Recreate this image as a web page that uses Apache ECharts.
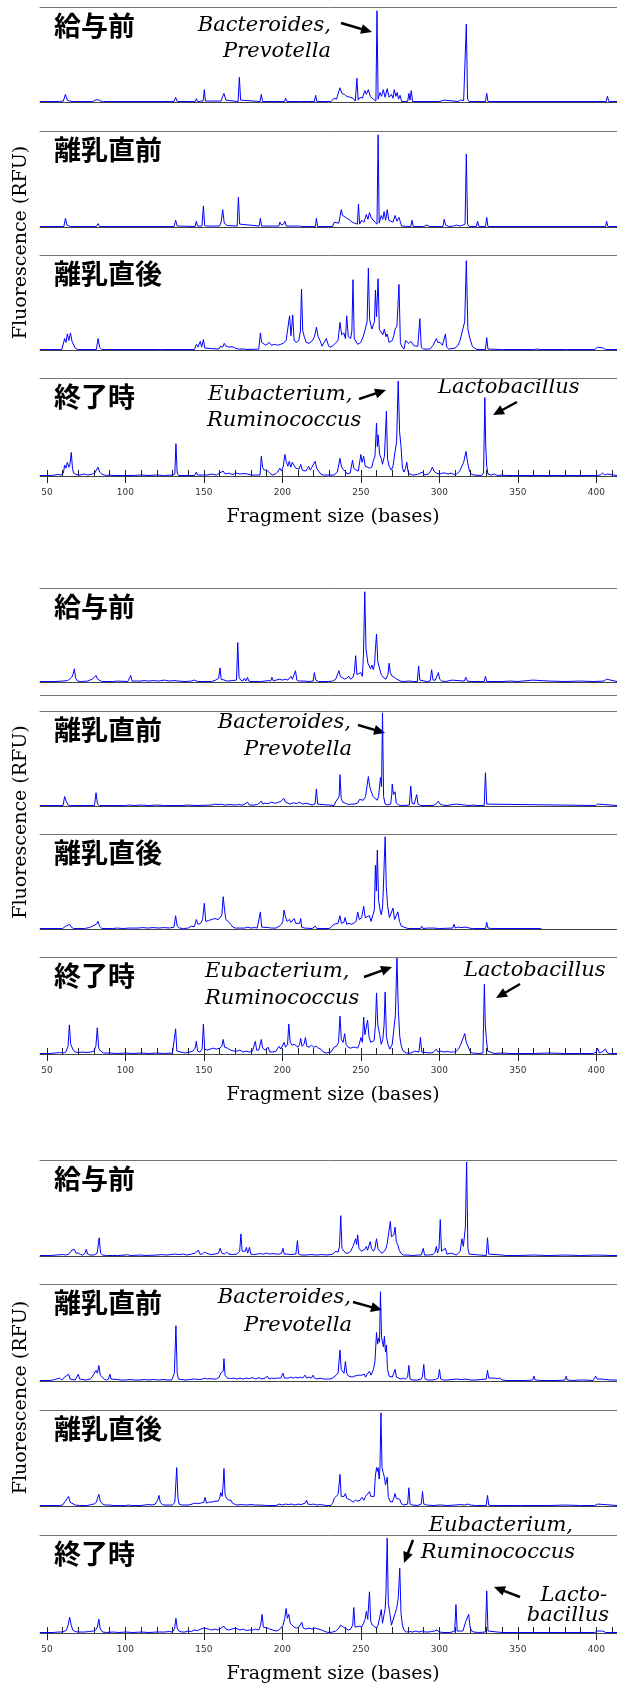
<!DOCTYPE html>
<html><head><meta charset="utf-8">
<script src="https://cdn.jsdelivr.net/npm/echarts@6/dist/echarts.min.js"></script>
<style>html,body{margin:0;padding:0;background:#fff}#c{width:617px;height:1688px}</style>
</head><body><div id="c"></div><script>
// ---------- axis values ----------
const X_MIN = 45.6, X_MAX = 413.2;
const tickLabels = [50, 100, 150, 200, 250, 300, 350, 400];
const allTicks = [50,60,70,80,90,100,110,120,130,140,150,160,170,180,190,200,210,220,230,240,250,260,270,280,290,300,310,320,330,340,350,360,370,380,390,400,410];
const panelNames = ['給与前', '離乳直前', '離乳直後', '終了時'];
const xTitle = 'Fragment size (bases)';
const yTitle = 'Fluorescence (RFU)';

// ---------- traces: [fragment size (bases), fluorescence (% of panel full scale)] ----------
const g1p1 = [[45.6,0.5],[58,0.5],[60.5,1],[61.8,8],[63,2],[64.5,1],[66,0.5],[79,0.5],[81,2],[82.6,2.5],[84,1],[86,0.5],[131,0.5],[132,5],[133,0.5],[144.5,0.5],[145.2,3.5],[146,0.5],[149.5,1],[150.3,13],[151,1],[161,1],[162,6],[162.8,9],[164,2],[165,0.5],[171.8,0.5],[172.6,26],[173.4,2],[174,0.5],[185.8,0.5],[186.6,8],[187.4,0.5],[201.4,0.5],[202.1,4],[203,0.5],[211,0.5],[211.7,2],[212.5,0.5],[220.4,0.5],[221.2,7],[222,0.5],[231,0.5],[233,4],[234.5,3],[236.7,15],[238,9],[239.5,8],[241,6],[243,5],[245,4],[246.5,1],[247.5,25],[248.3,2],[249.5,5],[251,4],[252.5,12],[253.5,8],[254.8,13],[256,6],[258,3],[259.6,1],[260.3,96],[261,3],[262.2,10],[263.2,6],[264.3,13],[265.5,5],[266.8,14],[268,5],[269.5,8],[270.5,4],[271.3,13],[272.3,6],[273.2,10],[274,3],[275,7],[276,0.5],[279.8,0.5],[280.6,9],[281.3,2],[282.1,12],[283,0.5],[300,0.5],[303,2],[304,0.5],[312,0.5],[313.5,2],[314.4,3],[315.5,1.5],[316.5,3],[317.2,82],[318,3],[319,0.5],[329.4,0.5],[330.2,9],[331,0.5],[406.3,0.5],[407.1,6],[408,0.5],[413.2,0.5]];
const g1p2 = [[45.6,0.5],[60.8,0.5],[61.8,9],[62.8,2],[64,1.5],[65,0.5],[81.5,0.5],[82.6,3.5],[83.6,0.5],[131,0.5],[132,7],[133,1],[134,0.5],[144.4,0.5],[145.2,6],[146,1],[148.8,1],[149.7,22],[150.5,1.5],[152,1],[160,1],[161,5],[162,18],[163,4],[165,1.5],[171.2,1],[172,31],[172.8,3],[174,1.5],[185.2,1],[186,9],[186.8,1],[197.8,1],[198.4,5],[199.5,2],[200.8,3],[201.6,6],[202.5,1],[211,1],[211.7,3],[212.4,0.5],[221,0.5],[221.7,9],[222.5,0.5],[232,0.5],[233,5],[234,3],[236,4],[237.5,18],[238.4,12],[239.2,14],[240.3,10],[241.5,9],[243,7],[244.5,5],[246,4],[247.8,3],[248.5,24],[249.2,3],[250.5,7],[252,5],[253.5,13],[254.5,8],[255.5,15],[256.5,10],[257.5,9],[259,5],[260.3,3],[261,96],[261.7,4],[263,12],[264,8],[264.8,16],[265.8,7],[266.8,18],[267.8,7],[269,9],[270.5,5],[271.8,12],[273,6],[274.3,10],[275.2,5],[276,1],[281.8,0.5],[282.6,7],[283.4,0.5],[290,0.5],[292,2],[294,0.5],[302.3,0.5],[303.1,8],[304,2],[306,0.5],[309,1],[311,2],[313,1],[315,2],[316.4,3],[317.2,76],[318,3],[319,0.5],[323.6,0.5],[324.4,6],[325.2,0.5],[329.4,0.5],[330.2,10],[331,0.5],[406,0.5],[406.6,6],[407.4,0.5],[413.2,0.5]];
const g1p3 = [[45.6,0.5],[59.5,0.5],[61.3,12],[62.2,8],[63,17],[64,10],[65,18],[66,9],[66.8,7],[68,2],[69.5,0.5],[81.5,0.5],[82.6,12],[83.6,3],[85,0.5],[121,0.5],[122,2],[123,0.5],[144,0.5],[145.2,6],[146.2,3],[147.7,9],[148.6,3],[149.7,11],[150.6,2],[151.5,0.5],[159.5,1],[160.5,4],[162,3],[163,7],[164,4],[166,3],[168,3.5],[170,2],[172,1],[176,1],[176.6,3],[177.5,0.5],[185,1],[186,18],[186.8,8],[188,6],[189.5,5],[191.6,8],[193,5],[195,6],[197,5],[199,6],[200.5,7],[201.5,6],[202.4,10],[203.5,12],[204.6,36],[205.5,15],[206.6,37],[207.5,10],[209,8],[210.5,10],[211.5,20],[212.2,64],[213,20],[214,14],[215.2,8],[217,7],[219.2,10],[220.5,14],[221.7,24],[222.8,14],[224,10],[225.3,4],[226.5,6],[228,12],[229.5,4],[231,3],[232.5,5],[234.2,8],[235.5,10],[236.7,29],[237.8,16],[239.2,18],[240.2,12],[241,36],[242,14],[243.5,12],[244.3,20],[245,74],[245.8,12],[246.7,10],[248,6],[250,8],[251.5,14],[253,23],[254,30],[254.8,86],[255.6,32],[257,22],[258,22],[258.7,30],[259.3,63],[260,35],[261,75],[261.8,22],[263,20],[264,16],[265,22],[266,14],[266.8,17],[268,8],[269.2,6],[270,10],[271,15],[271.8,22],[273,25],[274.3,69],[275.2,8],[276,4],[277.5,1],[278.5,10],[279.3,12],[280.5,7],[282,9],[283.5,5],[285,4],[286.3,4],[287.6,33],[288.5,3],[290,1],[294,1],[296,5],[298.1,12],[299,8],[300.5,8],[302,5],[303.9,17],[304.7,3],[306,1],[310,2],[312,5],[313.2,10],[314,8],[315,22],[316.2,30],[317.2,94],[318.2,22],[319.5,12],[321,4],[322.5,2],[324,0.5],[329.4,0.5],[330.2,13],[331,1],[332,0.5],[339.5,0.5],[340.2,2],[341,0.5],[360,0.5],[362,1],[364,0.5],[380,0.5],[380.8,2],[381.6,0.5],[399,0.5],[400.9,3],[402,1],[404.5,2],[406,0.5],[413.2,0.5]];
const g1p4 = [[45.6,0.5],[53,0.5],[55,1],[57,1.5],[59,1],[60.5,3],[61.3,11],[62.2,8],[63,14],[64,9],[64.7,12],[65.5,24],[66.3,8],[67,3],[68.5,1.5],[71,1],[74,2],[76,1],[79,2],[80.5,3],[82.6,9],[83.6,4],[85,2],[86.5,1],[88,0.5],[90,1],[92,0.5],[105,0.5],[110,1],[115,0.5],[120,1],[125,0.5],[130,1],[131.5,2],[132.2,33],[133,3],[134,0.5],[144,0.5],[145.2,4],[146,1],[149.5,1],[150.3,3],[152,1],[155,2],[158,1],[160,3],[162.3,5],[163.5,2],[166,3],[168,1.5],[171,3],[173,2],[175,2.5],[178,2],[180,1],[183,1],[185.8,1],[186.6,20],[187.4,9],[188.5,6],[190,6],[191.1,8],[192,3],[193.5,1],[195.5,2],[197,4],[198.4,8],[199.5,5],[200.6,10],[201.6,22],[202.6,14],[203.5,10],[204.4,15],[205.4,9],[206.3,14],[207.4,13],[208.5,8],[209.6,10],[210.7,7],[211.7,12],[212.7,6],[213.7,8],[215,5],[216.7,10],[217.8,6],[218.8,9],[219.8,7],[220.9,15],[221.8,8],[223,6],[224.5,2],[226,1],[230,1],[233,1],[235,4],[236.7,18],[237.6,10],[238.5,7],[240,5],[241.5,2],[243.2,3],[244.7,16],[245.5,8],[247,6],[248.4,5],[250,22],[250.8,14],[251.8,20],[252.8,10],[254,9],[255.5,8],[257,9],[258,16],[259,20],[260,54],[260.5,30],[261,42],[262,22],[263,18],[263.8,12],[265,20],[265.6,40],[266.3,66],[267,18],[268,10],[269.5,6],[270.5,10],[271.8,25],[272.8,35],[273.8,97],[274.7,45],[275.6,30],[276.5,8],[277.5,4],[278.5,8],[279.3,14],[280,5],[281,2],[283,1],[286,1.5],[289.3,4],[290.5,1],[293,2],[294.5,5],[295.6,9],[296.6,5],[298,3],[300,2],[302,3],[303.8,3],[305.5,2],[307.5,3],[309.5,1.5],[311,2],[313,5],[314.4,10],[315.5,14],[317,25],[318,14],[319.2,5],[320.5,2],[322,1],[327,0.5],[328.2,3],[329,80],[329.6,30],[330.2,10],[331,2],[333,1],[335,2],[337,0.5],[340,1],[342,0.5],[400,0.5],[401,2.5],[402.5,1],[404,3],[405.5,1],[407,2],[408,0.5],[413.2,0.5]];
const g2p1 = [[45.6,0.5],[55,0.5],[60,1],[63,1.5],[64.5,3],[65.8,5],[66.6,8],[67.5,14],[68.3,4],[69.5,1],[72,0.5],[76,1],[78.8,3],[80,4],[81.3,7],[82.3,3],[83.5,1],[85,0.5],[92,0.5],[95,1],[96,0.5],[101.5,0.5],[102.5,2],[103.4,7],[104.2,1],[105,0.5],[107,1],[110,1],[112,1.5],[115,1],[118,1.5],[121,1],[125,2],[128,1],[131,1.5],[134,1],[138,0.5],[142,1],[144,2],[146,0.5],[155,0.5],[157.5,2],[159.4,4],[160.3,15],[161,3],[162,1],[165,1],[168,1.5],[170.8,2],[171.6,42],[172.4,5],[173.5,2],[174.8,1],[175.8,4],[176.8,1],[177.8,5],[178.6,1],[180,0.5],[186,0.5],[189,1],[191,1.5],[192.5,1],[193.4,5],[194.3,1],[196,2],[198,3],[199.1,5],[200,2],[202,3],[203.5,2],[205.4,6],[206.4,3],[207.5,5],[208.4,12],[209.2,2],[210.5,1],[214,1],[217,0.5],[219.6,1],[220.4,10],[221.3,2],[223,0.5],[229,0.5],[232,1],[234,3],[236,12],[237,6],[238,5],[239.5,3],[240.8,4],[242.3,6],[243.5,3],[245,5],[245.9,10],[246.7,28],[247.5,8],[248.5,7],[250,10],[251,6],[251.7,30],[252.5,96],[253.3,35],[254.5,20],[255.5,22],[256.2,14],[257,18],[258,13],[258.8,20],[259.3,35],[260,51],[260.8,22],[261.8,15],[263,8],[264.3,5],[266,3],[267.3,8],[268,20],[268.8,10],[270,6],[271.3,5],[273,3],[275,1],[277,0.5],[280,1],[280.6,3],[281.3,1],[282.5,2],[283.5,0.5],[286,0.5],[286.8,17],[287.6,2],[288.5,1],[292,0.5],[294.2,1],[295.1,13],[296,2],[297.5,2],[298.6,3],[299.4,10],[300.2,3],[301.5,1],[304,0.5],[308.1,2],[309,0.5],[315.9,1],[316.9,5],[317.8,1],[320,0.5],[328.6,0.5],[329.4,6],[330.2,0.5],[340,0.5],[345,1],[350,0.5],[359.5,2],[360.5,0.5],[370,1],[380,0.5],[390,1],[398,0.5],[405,1],[406.5,3],[407.5,1],[413.2,0.5]];
const g2p2 = [[45.6,0.5],[60.3,0.5],[61.3,10],[62.3,5],[63.5,1],[65,0.5],[80.3,0.5],[81.3,14],[82.2,2],[83.5,0.5],[100,0.5],[102,1],[106,0.5],[110,1],[115,0.5],[120,1],[125,0.5],[136,0.5],[140,1],[145,0.5],[155,1],[157,2],[159,1.5],[161,2],[163,1],[166,1.5],[170,1],[172,1.5],[175,1],[177.8,4],[179,1],[182,1],[184,1.5],[186.6,5],[187.6,2],[189,3],[191,2.5],[193,4],[195,3],[197,3.5],[199.1,5],[200,4],[200.9,8],[202,4],[203.5,3],[205,2],[207,3.5],[209,2.5],[211,4],[213,2],[215,3],[217,2],[219,1],[220.8,2],[221.7,18],[222.5,2],[223.5,0.5],[233,0.5],[234.2,5],[235.3,3],[236.2,10],[236.7,33],[237.5,8],[238.5,4],[240,3],[242,1.5],[244,2],[246,2],[248,3],[249.2,7],[250.3,5],[251.5,6],[253,10],[254,12],[254.8,31],[255.5,22],[256,18],[256.8,17],[257.8,10],[259,8],[260.4,6],[261.3,10],[262,12],[262.5,30],[263.2,20],[263.8,98],[264.5,10],[265.5,2],[267,1],[269,2],[269.7,12],[270,23],[270.8,12],[271.8,15],[272.6,3],[274,1],[276,0.5],[280.9,1],[281.8,21],[282.6,3],[284,2],[285.6,12],[286.4,2],[288,0.5],[296,0.5],[297.8,2],[299.4,5],[300.5,2],[302,1],[305,0.5],[308,1.5],[311,2],[314,1.5],[316,1],[319,0.5],[322,1],[324,0.5],[328.6,0.5],[329.4,35],[330.2,2],[331,0.5],[399.5,0.5],[400.9,2],[402,0.5],[413.2,0.5]];
const g2p3 = [[45.6,0.5],[60,0.5],[62,3],[63,2],[64.5,5],[65.5,2],[67,0.5],[74,0.5],[77,1.5],[79,3],[80,2],[81.5,5],[82.6,8],[83.5,3],[85,0.5],[92,0.5],[95,1],[98,0.5],[103,1],[108,1],[111,1.5],[114,1],[118,1.5],[121,1],[125,1.5],[128,1],[131,2],[132,14],[133,3],[134.5,1],[137,0.5],[140,1],[142,3],[144,2.5],[145.2,10],[146.3,5],[148,6],[149.2,10],[150.3,27],[151.2,8],[153,9],[155,10],[157,11],[159,10],[160.5,12],[161.5,15],[162.3,34],[163.2,20],[164,10],[165.5,8],[167,5],[168.5,2],[170,1],[176,1],[178,2],[180,1],[182,1.5],[184,1],[185.2,2],[186,18],[186.8,2],[188,1],[191,1.5],[193,1],[196,1],[198,3],[199.5,5],[200.3,8],[201.1,20],[201.8,14],[203,8],[204.5,10],[205.4,7],[206.5,9],[207.5,11],[208.5,6],[209.7,5],[211,6],[211.7,11],[212.3,2],[214,1],[219,0.5],[221,3],[222,0.5],[230,0.5],[233,5],[235.5,6],[236.7,14],[237.6,6],[239.2,7],[240,12],[241,5],[242.5,6],[244,5],[245.5,6],[247,8],[248,18],[249,10],[250.5,12],[251.8,24],[252.8,12],[254,10],[255.5,14],[256.5,8],[257.7,6],[258.6,20],[259.3,67],[259.9,40],[260.5,83],[261.3,30],[262.3,20],[263,15],[263.8,22],[264.3,40],[265,75],[265.5,97],[266.2,45],[267,25],[268.2,12],[269.2,10],[270.5,22],[271.5,10],[272.5,12],[273.6,18],[274.6,8],[275.8,3],[277,1],[280,0.5],[288,0.5],[288.8,3],[289.6,0.5],[293,1],[296,1],[300,0.5],[308.6,1],[309.4,5],[310.2,1],[312,2],[314,1.5],[317,2],[319,1],[321,0.5],[329.4,0.5],[330.2,7],[331,1],[333.5,0.5],[364,0.5],[365,0.5]];
const g2p4 = [[45.6,0.5],[52,0.5],[55,1],[58,1.5],[60,1],[62,2],[63.5,8],[64.3,30],[65.2,10],[66.5,5],[68,2],[70,1.5],[73,2],[75,1.5],[78,2],[80,3],[81.2,8],[82.1,27],[83,6],[84.2,3],[86,1],[90,1],[95,0.5],[100,1],[105,0.5],[110,1],[115,0.5],[120,1],[125,0.5],[130,1],[131.2,3],[132,26],[132.8,3],[134,1],[138,1],[141,2],[143,3],[144.4,6],[145.2,13],[146,3],[147.5,2],[148.9,5],[149.7,31],[150.5,5],[152,4],[154,5],[156,6],[158,5],[160,6],[161.5,8],[162.3,15],[163.2,7],[165,6],[167,4],[169,3],[171,3],[173,4],[175,2],[177,3],[179,2],[181,3],[182,5],[182.8,13],[183.6,4],[185,4],[185.8,6],[186.6,15],[187.4,6],[189,4],[190.9,7],[192,2],[194,2],[196,3],[197.9,8],[199,5],[200.2,7],[201.1,12],[202,7],[203.3,10],[204.1,31],[205,12],[206.2,9],[207.5,10],[208.7,8],[210,7],[211,10],[211.7,16],[212.5,8],[213.8,10],[214.7,17],[215.6,8],[217,7],[218.6,9],[220,7],[221.7,8],[223,6],[224.5,5],[226,2],[228,1],[231,2],[233,7],[234.5,8],[235.8,12],[236.7,39],[237.6,15],[238.7,12],[239.7,21],[240.6,10],[242,7],[243.5,6],[245,7],[246.5,7],[248,6],[249,10],[250,17],[251,12],[251.8,38],[252.6,20],[253.5,22],[254.3,35],[255.2,18],[256.3,12],[257.5,10],[258.5,14],[259.3,30],[260,63],[260.8,30],[262,20],[263,10],[264,15],[264.8,30],[265.5,64],[266.3,18],[267.3,10],[268.5,5],[270,10],[271,25],[272,40],[273,99],[273.9,45],[274.8,18],[275.8,8],[277,3],[279,1],[282,1],[284.3,3],[285.5,1],[287,2],[288,17],[288.8,2],[290,0.5],[294,1],[296,1.5],[298.1,5],[299.2,2],[301,3],[303,2],[305,2.5],[307,2],[309,2],[311,3],[312.5,6],[313.7,10],[314.8,12],[316.2,21],[317.2,12],[318.2,10],[319.5,3],[321,1],[325,0.5],[327.8,1],[328.7,72],[329.3,30],[330,15],[330.8,3],[332,1],[335,0.5],[340,1],[345,0.5],[360,0.5],[370,1],[380,0.5],[398,0.5],[400,2],[400.9,6],[402,1],[403.5,2],[404.5,1],[405.9,5],[407,1],[409,0.5],[413.2,0.5]];
const g3p1 = [[45.6,0.5],[52,0.5],[56,1],[60,1.5],[62,1],[64,2],[65.8,6],[66.6,4],[67.5,7],[68.5,3],[70,3],[71.5,1.5],[73,1],[74.3,3],[75.1,7],[75.9,2],[77.5,1],[80,1],[82,3],[83.3,19],[84.2,3],[85.5,1],[88,0.5],[92,0.5],[95,0.5],[100,1],[101.4,1.5],[103,0.5],[110,1],[113,0.5],[120,1],[123,1.5],[126,1],[129,1.5],[131.5,2],[132.7,3.5],[134,1.5],[137,2],[139,1],[142,2],[144.5,3],[146.5,6],[147.5,2],[149,2],[150.3,4],[151.5,2],[154,1.5],[157,2],[159.3,3],[160.3,8],[161.5,3],[163,2],[164.5,4],[166,2],[168,1.5],[171,2],[172.8,5],[173.6,23],[174.4,5],[175.5,3],[176.3,5],[177.1,9],[177.9,3],[178.4,5],[179.1,9],[179.9,2],[181.5,1.5],[184,2],[186,2.5],[188,2],[190,3],[192,2],[194,2.5],[196,2],[198,2],[199.5,3],[200.4,8],[201.2,2],[203,2],[205,1.5],[208.6,2],[209.6,16],[210.4,2],[212,1],[215,1],[218,1.5],[222,1],[225,1.5],[229,1],[232,2],[234.2,5],[235.5,4],[236.4,10],[237.2,42],[238,8],[239.2,5],[240.5,3],[242,3],[243.5,5],[245,10],[245.8,8],[246.7,18],[247.3,12],[248,22],[248.8,8],[250.3,5],[251.5,4],[252.6,7],[253.5,10],[254.3,6],[255.2,8],[256,15],[256.8,8],[258,5],[259,8],[260,18],[260.9,8],[262,5],[263.5,3],[265,5],[266,8],[266.8,13],[267.8,12],[268.8,36],[269.5,20],[270.3,18],[271,22],[271.8,30],[272.6,15],[273.5,12],[274.5,6],[275.5,3],[277,1],[280,1],[283,0.5],[286,1],[288.5,1],[289.8,8],[290.6,1],[293,1],[296,1.5],[297.3,4],[298.1,10],[298.9,3],[299.8,8],[300.6,38],[301.4,5],[302.5,3],[303.9,8],[304.8,2],[306,1],[307.5,3],[308.5,1],[311,1],[313.3,5],[314.4,18],[315.3,10],[316,8],[316.6,30],[317.4,98],[318.2,8],[319,2],[320,0.5],[329.9,0.5],[330.7,19],[331.5,2],[332.5,0.5],[340,1],[342,0.5],[350,0.5],[360,1],[370,0.5],[380,1],[390,0.5],[400,1],[410,0.5],[413.2,0.5]];
const g3p2 = [[45.6,0.5],[52,0.5],[55,1.5],[58,3],[59.5,1],[61.3,4],[62.5,2],[63.8,7],[64.8,2],[66,1],[68,1],[69.2,2],[70,7],[70.8,2],[72,1],[75,1],[77.5,2],[78.8,4],[80,3],[81.3,11],[82.2,8],[83.1,16],[84,6],[85.2,4],[86.5,2],[88,1],[89.3,2],[90.1,7],[90.9,2],[92,1],[95,1.5],[97,1],[100,1],[103,1.5],[106,1],[109,1],[112,1.5],[115,1],[118,1.5],[121,1],[124,1.5],[127,1],[129.5,1],[131.2,8],[132.2,57],[133,8],[133.8,2],[135,1],[138,1],[141,1.5],[144,2],[147,1.5],[149,2],[150.7,3],[151.5,5],[152.3,2],[154,2.5],[156,2],[158,2],[159.8,4],[160.7,8],[161.6,6],[162.3,10],[162.8,23],[163.5,6],[165,3],[167,2.5],[169,3],[171,2],[173,3],[175,2],[177,3],[179,2.5],[181,3.5],[183,2],[185,3.5],[187,2],[189,3],[190.4,5],[191.5,2],[193,3],[195,2.5],[197,3],[199,3],[199.6,4],[200.4,8],[201.3,3],[202.5,4],[204,3],[205.5,4],[207,3],[208.5,4],[210,3],[211.5,4],[213,3],[214.4,6],[215.5,3],[217,4],[218.5,3],[219.6,6],[220.5,3],[222,2],[224,3],[226,2],[228,2],[230,2],[232,3],[233.5,5],[234.5,3],[235.5,8],[236.7,32],[237.5,12],[238.2,10],[239.3,8],[240.2,20],[241,8],[242.2,5],[243.3,3],[244.5,4],[246,5],[247,3],[248.5,6],[249.5,4],[250.5,6],[251.5,5],[252.3,7],[253,4],[254,7],[255,6],[255.5,10],[256.5,6],[257.3,8],[258,12],[259,20],[260,50],[260.7,38],[261.3,44],[261.9,40],[262.5,92],[263.2,45],[263.8,45],[264.4,35],[265,46],[265.7,30],[266.3,37],[267,12],[268,5],[269,3],[270,4],[271,8],[271.8,12],[272.7,4],[274,3],[275.5,2],[277,3],[278.5,2],[279.8,4],[280.6,16],[281.4,2],[283,1],[286,1],[288.5,2],[289.3,5],[290.1,17],[290.9,2],[292.5,1],[295,1],[297.5,1.5],[299.3,3],[300.1,12],[300.9,2],[302.5,1],[305,1],[308,1.5],[311,2],[314,1.5],[317,2],[320,1],[323,1],[326,1.5],[329.9,2],[330.7,11],[331.5,3],[333,3],[335,3],[337,2.5],[338.5,3],[340,1],[343,0.5],[355,0.5],[359.5,1],[360.3,5],[361.1,1],[365,0.5],[375,0.5],[380,1],[380.8,5],[381.6,1],[385,0.5],[390,1],[390.9,3],[391.7,1],[398,0.5],[399.6,5],[400.6,2],[403,2],[406,1.5],[409,1],[413.2,1]];
const g3p3 = [[45.6,0.5],[58,0.5],[60,1],[61.3,4],[62.5,3],[63.8,10],[64.8,4],[66,2],[68,1],[71,0.5],[76,0.5],[78,1.5],[80,2],[81.5,4],[82.2,8],[83.1,12],[84,5],[85.5,2],[87,1],[90,1],[92,0.5],[100,0.5],[102,1],[104,0.5],[110,0.5],[112,1],[115,1.5],[117,1],[119,2],[120.5,6],[121.4,11],[122.2,4],[123.5,1.5],[125,1],[128,1],[130,1],[131.5,4],[132.7,40],[133.5,8],[134.2,2],[136,1],[140,1],[142.5,2],[144,3],[146,2.5],[148,3],[149.9,4],[150.8,9],[151.6,3],[153,4],[155,4],[157,5],[159,5],[160,8],[160.8,14],[161.6,10],[162.2,20],[162.8,39],[163.5,12],[164.5,8],[166,6],[167.3,6],[168.2,3],[169.5,2],[171,1],[174,1.5],[177,1],[180,1.5],[183,1],[186,1],[190,0.5],[196,0.5],[198,2],[200,1],[202,2],[204,1.5],[206,2],[208,1],[210,2],[212,1.5],[214.5,3],[215.4,6],[216.2,2],[218,1.5],[220,2],[222,1],[224,1.5],[226,1],[228,0.5],[231,0.5],[232.3,4],[233,8],[234,6],[235.5,12],[236.3,25],[236.7,33],[237.5,10],[238.5,8],[239.3,10],[240.2,13],[241,8],[242,6],[243.5,6],[245,4],[246.5,6],[248,5],[249.5,6],[250.8,9],[252,6],[253,10],[254,8],[255.5,15],[256.4,10],[257.2,12],[258.5,10],[259.2,30],[260,40],[260.5,36],[261,40],[261.7,28],[262.2,40],[262.8,97],[263.5,40],[264.2,35],[265,30],[265.7,22],[266.2,25],[266.8,30],[267.5,10],[268.5,5],[270,4],[271,8],[271.8,13],[272.6,8],[273.5,10],[274.8,7],[275.6,3],[277,1],[279.8,2],[280.6,19],[281.4,2],[283,1],[286,0.5],[288.5,2],[289.3,15],[290.1,2],[292,1],[296,0.5],[299.8,1],[300.6,3],[301.4,1],[305,0.5],[310,1],[313,1.5],[316,1],[318,2],[320,1],[323,0.5],[329.9,0.5],[330.7,11],[331.5,1],[333,0.5],[340,0.5],[350,0.5],[350.8,1.5],[351.6,0.5],[370,0.5],[380,1],[390,0.5],[399,0.5],[400.9,2],[402,0.5],[413.2,0.5]];
const g3p4 = [[45.6,0.5],[54,0.5],[57,1],[60,1],[62.5,3],[63.5,8],[64.5,16],[65.5,8],[66.5,3],[68,1.5],[70,1],[74,1],[77,1.5],[79.5,2],[81,3],[82.2,6],[83.1,14],[84,4],[85.5,1],[88,0.5],[92,1],[96,0.5],[100,1],[105,0.5],[110,1],[115,0.5],[120,1],[125,1],[128,1.5],[130,1],[131.4,5],[132.2,15],[133,5],[134,2],[136,1],[138,1],[140,2],[142,1.5],[144,3],[146,2.5],[148,4],[150.3,5],[151.5,3],[153,4],[155,3],[157,4],[159,3],[161,5],[162.8,7],[164,4],[166,3],[168,4],[170.3,5],[171.5,3],[173,3],[175,4],[177,2.5],[179,3],[181,3],[183,4],[185,3],[186.2,8],[187.1,19],[187.9,6],[189,5],[190.5,5],[192,4],[194,3],[196,2],[197.5,3],[199,5],[200.5,8],[201.5,15],[202.4,25],[203.2,15],[204.1,19],[205,10],[206,8],[207.5,6],[209,5],[210.5,6],[211.5,8],[212.4,11],[213.3,5],[215,4],[217,5],[219,4],[221,5],[223,4],[225,3],[226.5,2],[228,1],[230,0.5],[232,1],[234,2],[236,5],[237,8],[238,10],[239,6],[240.2,4],[242,3],[243.5,4],[244.8,8],[245.5,26],[246.3,6],[247.5,5],[249,7],[250.5,6],[251.8,10],[252.7,14],[253.5,22],[254.4,14],[255.5,42],[256.3,12],[257.3,8],[258.5,7],[260,5],[261,8],[262,10],[263,24],[263.8,10],[264.8,10],[265.5,25],[266,40],[266.8,97],[267.5,30],[268.5,20],[269.5,8],[270.5,8],[271.8,20],[272.8,25],[273.8,35],[274.8,66],[275.6,20],[276.5,8],[277.5,3],[279,1],[281,1.5],[283,1],[285,2],[287,1],[289.3,2],[290.1,4],[291,1],[293,1],[295,1.5],[297,2],[297.6,4],[298.5,3],[300,1],[303,0.5],[307,0.5],[309.8,2],[310.6,29],[311.4,2],[312.5,1],[315,2],[316.9,12],[317.8,10],[318.7,19],[319.6,6],[320.5,2],[322,1],[325,0.5],[329.4,1],[330.2,43],[331,2],[332,0.5],[340,0.5],[350,0.5],[360,0.5],[380,0.5],[399,0.5],[400.9,2],[402,1],[404,2],[406,0.5],[413.2,0.5]];

const traces = [g1p1, g1p2, g1p3, g1p4, g2p1, g2p2, g2p3, g2p4, g3p1, g3p2, g3p3, g3p4];

// ---------- layout (pixel positions) ----------
const panelBox = [[7,102],[131,227],[255,350],[378,476],[588,682],[711,806],[834,929],[957,1054],[1160,1256],[1284,1381],[1410,1506],[1535,1633]];
const annotations = [
  ['Bacteroides,', 331, 26, 'right'], ['Prevotella', 331, 52, 'right'],
  ['Eubacterium,', 208, 395, 'left'], ['Ruminococcus', 207, 421, 'left'], ['Lactobacillus', 438, 388, 'left'],
  ['Bacteroides,', 351, 723, 'right'], ['Prevotella', 352, 750, 'right'],
  ['Eubacterium,', 205, 972, 'left'], ['Ruminococcus', 205, 999, 'left'], ['Lactobacillus', 464, 971, 'left'],
  ['Bacteroides,', 351, 1298, 'right'], ['Prevotella', 352, 1326, 'right'],
  ['Eubacterium,', 573, 1526, 'right'], ['Ruminococcus', 575, 1553, 'right'], ['Lacto-', 607, 1596, 'right'], ['bacillus', 609, 1616, 'right']
];
const arrows = [[341,23,372,32],[359,399,386,390],[517,402,493,415],[358,725,385,733],[364,977,392,967],[520,984,496,998],[353,1302,382,1310],[413,1540,404,1563],[520,1597,494,1587]];

const grid = [], xAxis = [], yAxis = [], series = [], graphic = [];
panelBox.forEach(([t, b], i) => {
  grid.push({left: 40, width: 577, top: t, height: b - t});
  yAxis.push({type: 'value', gridIndex: i, min: 0, max: 100, show: false});
  const last = (i % 4) === 3;
  const bottomIdx = xAxis.length;
  xAxis.push({
    type: 'value', gridIndex: i, min: X_MIN, max: X_MAX, position: 'bottom',
    axisLine: {show: true, onZero: false, lineStyle: {color: '#444', width: 1}},
    axisTick: last ? {show: true, inside: true, length: 6, customValues: allTicks, lineStyle: {color: '#222', width: 1}} : {show: false},
    axisLabel: last ? {show: true, customValues: tickLabels, margin: 12, fontSize: 9, fontFamily: 'DejaVu Sans', color: '#333'} : {show: false},
    splitLine: {show: false}
  });
  xAxis.push({
    type: 'value', gridIndex: i, min: X_MIN, max: X_MAX, position: 'top',
    axisLine: {show: true, onZero: false, lineStyle: {color: '#777', width: 1}},
    axisTick: {show: false}, axisLabel: {show: false}, splitLine: {show: false}
  });
  if (last) {
    xAxis.push({
      type: 'value', gridIndex: i, min: X_MIN, max: X_MAX, position: 'bottom',
      axisLine: {show: false, onZero: false},
      axisTick: {show: true, inside: false, length: 7, customValues: tickLabels, lineStyle: {color: '#222', width: 1}},
      axisLabel: {show: false}, splitLine: {show: false}
    });
  }
  series.push({
    type: 'line', xAxisIndex: bottomIdx, yAxisIndex: i, data: traces[i],
    showSymbol: false, symbol: 'none', silent: true, z: 3,
    lineStyle: {color: '#0000ff', width: 1}
  });
  graphic.push({type: 'text', x: 54, y: t + 19, style: {text: panelNames[i % 4], font: 'bold 27px "Noto Sans CJK JP"', fill: '#000', align: 'left', verticalAlign: 'middle'}});
  if (last) {
    graphic.push({type: 'text', x: 333, y: b + 41, style: {text: xTitle, font: '19px "DejaVu Serif"', fill: '#000', align: 'center', verticalAlign: 'middle'}});
    const top0 = panelBox[i - 3][0];
    graphic.push({type: 'text', x: 21, y: (top0 + b) / 2 + 1, rotation: Math.PI / 2, style: {text: yTitle, font: '19px "DejaVu Serif"', fill: '#000', align: 'center', verticalAlign: 'middle'}});
  }
});
// stray separator line under the first panel of the second group
graphic.push({type: 'line', shape: {x1: 40, y1: 695.5, x2: 617, y2: 695.5}, style: {stroke: '#777', lineWidth: 1}});

annotations.forEach(([text, x, y, align]) => {
  graphic.push({type: 'text', x, y, style: {text, font: 'italic 21px "DejaVu Serif"', fill: '#000', align, verticalAlign: 'middle'}});
});
arrows.forEach(([x1, y1, x2, y2]) => {
  const dx = x2 - x1, dy = y2 - y1, L = Math.hypot(dx, dy), ux = dx / L, uy = dy / L;
  const hl = 11, hw = 5, bx = x2 - ux * hl, by = y2 - uy * hl;
  graphic.push({type: 'line', shape: {x1, y1, x2: bx + ux, y2: by + uy}, style: {stroke: '#000', lineWidth: 2.5}});
  graphic.push({type: 'polygon', shape: {points: [[x2, y2], [bx - uy * hw, by + ux * hw], [bx + uy * hw, by - ux * hw]]}, style: {fill: '#000'}});
});

const chart = echarts.init(document.getElementById('c'), null, {renderer: 'canvas'});
chart.setOption({animation: false, backgroundColor: '#fff', grid, xAxis, yAxis, series, graphic});
</script></body></html>
